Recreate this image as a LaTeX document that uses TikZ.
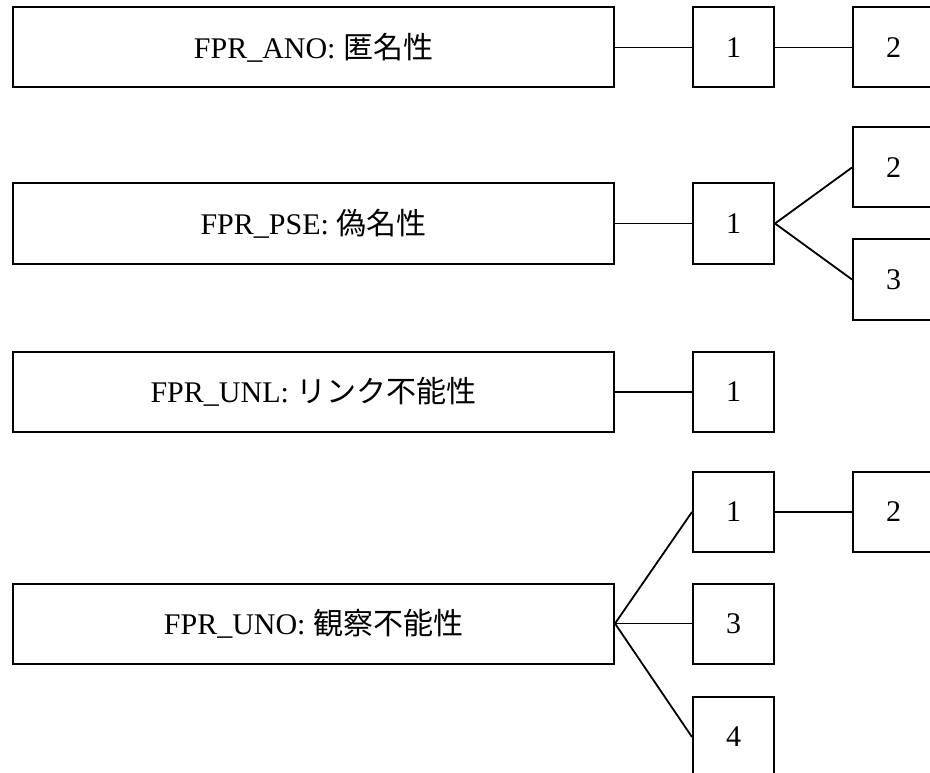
\documentclass[tikz,border=0pt]{standalone}
\usepackage{fontspec}
\setmainfont{Liberation Serif}
\newfontfamily\jpfont{Noto Sans CJK JP}
\usetikzlibrary{positioning}
\tikzset{
  fbox/.style={draw, line width=2pt, inner sep=0pt, minimum height=80pt, font=\fontsize{30}{36}\selectfont},
  fclass/.style={fbox, minimum width=601pt},
  fcomp/.style={fbox, minimum width=81pt},
  link/.style={line width=1.8pt},
}
\begin{document}
\begin{tikzpicture}[x=1pt, y=-1pt]
    \clip (0,0) rectangle (930,773);
    % FPR_ANO
    \node[fclass] (ano) at (313.5,47.5) {FPR\_ANO: {\jpfont 匿名性}};
    \node[fcomp] (ano1) at (733.5,47.5) {1};
    \node[fcomp] (ano2) at (893.5,47.5) {2};
    % FPR_PSE
    \node[fclass] (pse) at (313.5,223.5) {FPR\_PSE: {\jpfont 偽名性}};
    \node[fcomp] (pse1) at (733.5,223.5) {1};
    \node[fcomp] (pse2) at (893.5,167.5) {2};
    \node[fcomp] (pse3) at (893.5,279.5) {3};
    % FPR_UNL
    \node[fclass] (unl) at (313.5,392) {FPR\_UNL: {\jpfont リンク不能性}};
    \node[fcomp] (unl1) at (733.5,392) {1};
    % FPR_UNO
    \node[fclass] (uno) at (313.5,623.5) {FPR\_UNO: {\jpfont 観察不能性}};
    \node[fcomp] (uno1) at (733.5,512) {1};
    \node[fcomp] (uno2) at (893.5,512) {2};
    \node[fcomp] (uno3) at (733.5,623.5) {3};
    \node[fcomp] (uno4) at (733.5,737) {4};
    \draw[link] (ano) -- (ano1);
    \draw[link] (ano1) -- (ano2);
    \draw[link] (pse) -- (pse1);
    \draw[link] (pse1.east) -- (pse2.west);
    \draw[link] (pse1.east) -- (pse3.west);
    \draw[link] (unl) -- (unl1);
    \draw[link] (uno.east) -- (uno1.west);
    \draw[link] (uno.east) -- (uno3.west);
    \draw[link] (uno.east) -- (uno4.west);
    \draw[link] (uno1) -- (uno2);
  \end{tikzpicture}
\end{document}
